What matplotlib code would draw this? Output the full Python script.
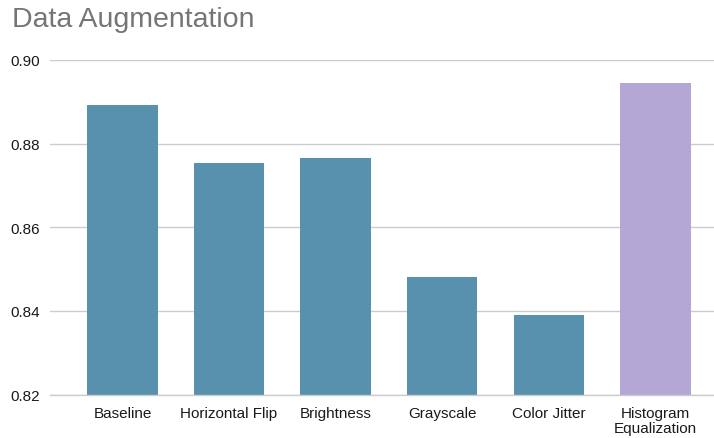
import matplotlib.pyplot as plt

plt.rcParams['font.family'] = ['Liberation Sans', 'DejaVu Sans']

# accuracy per augmentation method
methods = ['Baseline', 'Horizontal Flip', 'Brightness', 'Grayscale', 'Color Jitter', 'Histogram\nEqualization']
accuracy = [0.8893, 0.8754, 0.8766, 0.8482, 0.8389, 0.8945]
bar_colors = ['#5891ad'] * 5 + ['#b4a7d6']

fig = plt.figure(figsize=(7.14, 4.39), dpi=100)
ax = fig.add_axes([50 / 714, 43.5 / 439, 664 / 714, 334.5 / 439])

x = range(len(methods))
ax.bar(x, [a - 0.82 for a in accuracy], bottom=0.82, width=0.66, color=bar_colors, zorder=3)

ax.set_ylim(0.82, 0.90)
ax.set_xlim(-0.68, 5.55)
ax.set_yticks([0.82, 0.84, 0.86, 0.88, 0.90])
ax.set_yticklabels(['0.82', '0.84', '0.86', '0.88', '0.90'])
ax.set_xticks(list(x))
ax.set_xticklabels(methods, linespacing=1.15)
ax.grid(axis='y', color='#cccccc', linewidth=1, zorder=0)
# baseline rule sits on the axes edge, keep it unclipped
ax.axhline(0.82, color='#cccccc', linewidth=1, zorder=4, clip_on=False)
ax.tick_params(axis='both', length=0, labelsize=11, labelcolor='#1a1a1a')
ax.tick_params(axis='y', pad=7)
ax.tick_params(axis='x', pad=8)
for s in ax.spines.values():
    s.set_visible(False)

fig.text(12 / 714, 1 - 20 / 439, 'Data Augmentation', fontsize=20.5, color='#757575', va='center', ha='left')

fig.savefig('out.png', dpi=100)
